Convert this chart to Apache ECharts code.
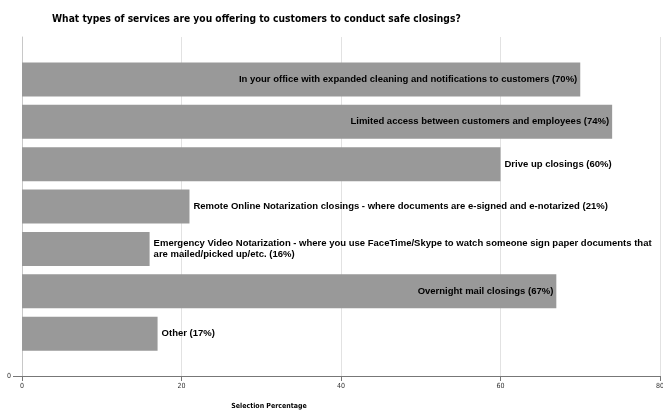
<!DOCTYPE html>
<html>
<head>
<meta charset="utf-8">
<script src="https://cdn.jsdelivr.net/npm/echarts@6/dist/echarts.min.js"></script>
<style>html,body{margin:0;padding:0;background:#fff;}#c{width:663px;height:414px;}</style>
</head>
<body>
<div id="c"></div>
<script>
// Categories from top to bottom
var categories = [
  'In your office with expanded cleaning and notifications to customers',
  'Limited access between customers and employees',
  'Drive up closings',
  'Remote Online Notarization closings - where documents are e-signed and e-notarized',
  'Emergency Video Notarization - where you use FaceTime/Skype to watch someone sign paper documents that\nare mailed/picked up/etc.',
  'Overnight mail closings',
  'Other'
];
var values = [70, 74, 60, 21, 16, 67, 17];
var xTicks = [0, 20, 40, 60, 80];
var outsideLabels = ['Drive up closings', 'Remote Online Notarization closings - where documents are e-signed and e-notarized',
  'Emergency Video Notarization - where you use FaceTime/Skype to watch someone sign paper documents that\nare mailed/picked up/etc.', 'Other'];

// Build bottom-to-top category axis: index 0 = baseline "0", indices 1..7 = bars, index 8 = top edge
var n = categories.length;
var yCats = ['0'];
var seriesData = [null];
for (var i = n - 1; i >= 0; i--) {
  var out = outsideLabels.indexOf(categories[i]) >= 0;
  yCats.push(categories[i]);
  seriesData.push({
    value: values[i],
    label: { position: out ? 'right' : 'insideRight', distance: out ? 4 : 3 }
  });
}
yCats.push('');
seriesData.push(null);

var chart = echarts.init(document.getElementById('c'), null, { renderer: 'canvas' });
chart.setOption({
  animation: false,
  backgroundColor: '#ffffff',
  title: {
    text: 'What types of services are you offering to customers to conduct safe closings?',
    left: 47, top: 9,
    textStyle: { fontFamily: 'DejaVu Sans Condensed', fontWeight: 'bold', fontSize: 10.2, color: '#000' }
  },
  grid: { left: 22, right: 3, top: 37, bottom: 38, containLabel: false, outerBoundsMode: 'none' },
  xAxis: {
    type: 'value', min: xTicks[0], max: xTicks[xTicks.length - 1], interval: 20,
    axisLine: { show: true, lineStyle: { color: '#777', width: 1 } },
    axisTick: { show: true, length: 5, lineStyle: { color: '#777' } },
    axisLabel: { fontFamily: 'DejaVu Sans Condensed', fontSize: 7, color: '#333', margin: 7 },
    splitLine: { show: true, lineStyle: { color: '#e2e2e2' } },
    name: 'Selection Percentage', nameLocation: 'middle', nameGap: 27,
    nameTextStyle: { fontFamily: 'DejaVu Sans Condensed', fontWeight: 'bold', fontSize: 7, color: '#000', padding: [0, 144, 0, 0] }
  },
  yAxis: {
    type: 'category', data: yCats, boundaryGap: false,
    axisLine: { show: true, lineStyle: { color: '#c8c8c8' } },
    axisTick: { show: true, length: 9, interval: function (idx) { return idx === 0; }, lineStyle: { color: '#777' } },
    axisLabel: { show: true, interval: 0, fontFamily: 'DejaVu Sans Condensed', fontSize: 7, color: '#333', margin: 11,
      formatter: function (v, idx) { return idx === 0 ? v : ''; } },
    splitLine: { show: false }
  },
  series: [{
    type: 'bar',
    data: seriesData,
    barWidth: 34,
    itemStyle: { color: '#999999' },
    label: {
      show: true,
      fontFamily: 'Liberation Sans', fontWeight: 'bold', fontSize: 9.5, color: '#000', lineHeight: 11,
      formatter: function (p) { return p.name + ' (' + p.value + '%)'; }
    }
  }]
});
</script>
</body>
</html>
